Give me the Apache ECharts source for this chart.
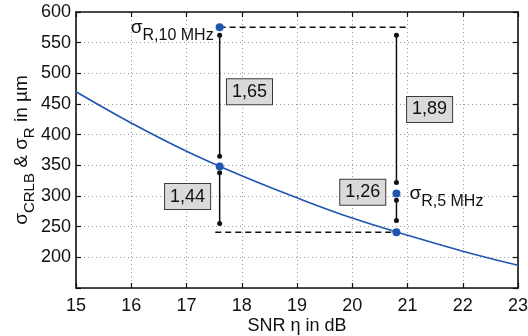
<!DOCTYPE html>
<html>
<head>
<meta charset="utf-8">
<script src="https://cdn.jsdelivr.net/npm/echarts@6/dist/echarts.min.js"></script>
<style>
  html, body { margin: 0; padding: 0; background: #fff; }
  #chart { width: 528px; height: 336px; }
</style>
</head>
<body>
<div id="chart"></div>
<script>
// Cramér-Rao bound of the range estimate over SNR
const snrDb = [15, 16, 17, 18, 19, 20, 21, 22, 23];
const sigmaCrlb = [470, 419, 373, 333, 297, 264, 236, 210, 187];

// measured range deviations for the two bandwidths
const pointSnr = [17.6, 17.6, 20.8, 20.8];
const pointSigma = [575, 348, 304, 241];

// ratio boxes: position (dB, µm) and text
const ratioSnr = [18.14, 21.40, 17.02, 20.19];
const ratioSigma = [470, 441, 299, 306];
const ratioText = ['1,65', '1,89', '1,44', '1,26'];

// vertical brackets between the points: x, top, bottom
const bracketSnr = [17.6, 17.6, 20.8, 20.8];
const bracketTop = [562, 338, 562, 293];
const bracketBottom = [365, 255, 322, 260];

// dashed reference levels: y, x from, x to
const dashSigma = [575, 241];
const dashFrom = [17.6, 17.52];
const dashTo = [21.03, 20.8];

// axis ranges and ticks
const xMin = 15, xMax = 23, xStep = 1;
const yMin = 150, yMax = 600, yStep = 50;

const FONT = '"Liberation Sans", Arial, Helvetica, sans-serif';
const BLUE = '#1f56b0';
const INK = '#111';

const chart = echarts.init(document.getElementById('chart'));

const axisLine = { show: true, lineStyle: { color: INK, width: 1.6 } };
const tickIn = { show: true, inside: true, length: 5, lineStyle: { color: INK, width: 1.2 } };
const gridDots = { show: true, lineStyle: { color: '#9a9a9a', width: 1, type: [1, 3] } };

const series = [];

// brackets with dot ends
bracketSnr.forEach((x, i) => {
  series.push({
    type: 'line',
    data: [[x, bracketTop[i]], [x, bracketBottom[i]]],
    symbol: 'circle',
    symbolSize: 5,
    showSymbol: true,
    itemStyle: { color: INK },
    lineStyle: { color: INK, width: 1.5 },
    silent: true,
    z: 2
  });
});

// dashed levels
dashSigma.forEach((y, i) => {
  series.push({
    type: 'line',
    data: [[dashFrom[i], y], [dashTo[i], y]],
    symbol: 'none',
    lineStyle: { color: INK, width: 1.5, type: [6, 4] },
    silent: true,
    z: 2
  });
});

// CRLB curve
series.push({
  type: 'line',
  data: snrDb.map((x, i) => [x, sigmaCrlb[i]]),
  smooth: 0.4,
  symbol: 'none',
  lineStyle: { color: BLUE, width: 1.6 },
  silent: true,
  z: 3
});

// measured points
series.push({
  type: 'scatter',
  data: pointSnr.map((x, i) => [x, pointSigma[i]]),
  symbol: 'circle',
  symbolSize: 8,
  itemStyle: { color: BLUE, opacity: 1 },
  silent: true,
  z: 4
});

// point names with subscripts
const subRich = {
  s: { fontSize: 19, lineHeight: 19, fontFamily: FONT, color: INK },
  sub: { fontSize: 16, lineHeight: 16, fontFamily: FONT, color: INK, padding: [17, 0, 0, 0] }
};
series.push({
  type: 'scatter',
  symbolSize: 8,
  itemStyle: { color: 'rgba(0,0,0,0)', opacity: 1 },
  silent: true,
  z: 5,
  data: [
    {
      value: [pointSnr[0], pointSigma[0]],
      label: { show: true, position: 'left', distance: 2, formatter: '{s|σ}{sub|R,10 MHz}', rich: subRich }
    },
    {
      value: [pointSnr[2], pointSigma[2]],
      label: { show: true, position: 'right', distance: 9, formatter: '{s|σ}{sub|R,5 MHz}', rich: subRich }
    }
  ]
});

// ratio boxes
series.push({
  type: 'scatter',
  symbolSize: 1,
  itemStyle: { color: 'rgba(0,0,0,0)', opacity: 1 },
  silent: true,
  z: 6,
  data: ratioSnr.map((x, i) => ({ value: [x, ratioSigma[i]], name: ratioText[i] })),
  label: {
    show: true,
    position: 'inside',
    formatter: p => p.name,
    fontFamily: FONT,
    fontSize: 18,
    color: INK,
    backgroundColor: '#dadada',
    borderColor: '#3a3a3a',
    borderWidth: 1,
    padding: [4, 5, 3, 5]
  }
});

chart.setOption({
  animation: false,
  backgroundColor: '#fff',
  grid: { left: 76, right: 10, top: 12, bottom: 48, outerBoundsMode: 'none', containLabel: false },
  xAxis: [
    {
      type: 'value', min: xMin, max: xMax, interval: xStep,
      axisLine, axisTick: tickIn, splitLine: gridDots,
      axisLabel: { fontFamily: FONT, fontSize: 18, color: INK, margin: 9 },
      name: 'SNR η in dB', nameLocation: 'middle', nameGap: 29, nameMoveOverlap: false,
      nameTextStyle: { fontFamily: FONT, fontSize: 18, color: INK }
    },
    {
      type: 'value', position: 'top', min: xMin, max: xMax, interval: xStep,
      axisLine, axisTick: tickIn, axisLabel: { show: false }, splitLine: { show: false }
    }
  ],
  yAxis: [
    {
      type: 'value', min: yMin, max: yMax, interval: yStep,
      axisLine, axisTick: tickIn, splitLine: gridDots,
      axisLabel: {
        fontFamily: FONT, fontSize: 18, color: INK, margin: 5,
        formatter: v => (v === yMin ? '' : String(v))
      },
      name: '{s|σ}{sub|CRLB}{s| & σ}{sub|R}{s| in µm}',
      nameLocation: 'middle', nameGap: 45, nameRotate: 90, nameMoveOverlap: false,
      nameTextStyle: {
        rich: {
          s: { fontSize: 19, lineHeight: 19, fontFamily: FONT, color: INK },
          sub: { fontSize: 15, lineHeight: 15, fontFamily: FONT, color: INK, padding: [16, 0, 0, 0] }
        }
      }
    },
    {
      type: 'value', position: 'right', min: yMin, max: yMax, interval: yStep,
      axisLine, axisTick: tickIn, axisLabel: { show: false }, splitLine: { show: false }
    }
  ],
  series
});
</script>
</body>
</html>
